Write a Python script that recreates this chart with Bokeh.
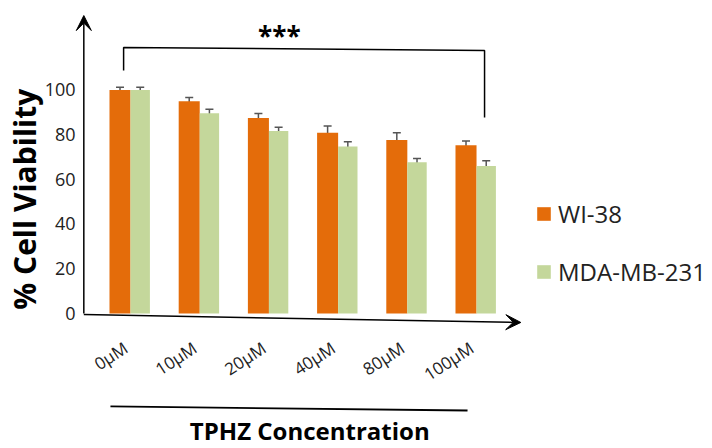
import math

from bokeh.core.properties import value
from bokeh.embed import file_html
from bokeh.models import (Arrow, ColumnDataSource, Legend, LegendItem, Range1d,
                          TeeHead, VeeHead, Whisker)
from bokeh.plotting import figure
from bokeh.resources import INLINE
from bokeh.transform import dodge

# ---- data -------------------------------------------------------------
concentrations = ["0\u03bcM", "10\u03bcM", "20\u03bcM", "40\u03bcM", "80\u03bcM", "100\u03bcM"]
wi38 = [99.8, 94.8, 87.3, 80.7, 77.4, 75.1]
wi38_err = [1.2, 1.6, 2.0, 3.0, 3.3, 1.9]
mda = [99.8, 89.4, 81.5, 74.6, 67.5, 65.8]
mda_err = [1.2, 1.8, 1.7, 2.1, 1.7, 2.4]
y_ticks = [0, 20, 40, 60, 80, 100]
series_names = ["WI-38", "MDA-MB-231"]

ORANGE = "#E46C0A"
GREEN = "#C4D79B"
ERR = "#555555"
FONT = "Open Sans"

pos = list(range(len(concentrations)))
src = ColumnDataSource(dict(
    x=pos,
    wi=wi38, wi_lo=[v - e for v, e in zip(wi38, wi38_err)], wi_hi=[v + e for v, e in zip(wi38, wi38_err)],
    mda=mda, mda_lo=[v - e for v, e in zip(mda, mda_err)], mda_hi=[v + e for v, e in zip(mda, mda_err)],
))

W, H = 712, 448
p = figure(width=W, height=H, x_range=Range1d(-1.879, 8.41), y_range=Range1d(-60.27, 139.73),
           x_axis_location=None, y_axis_location=None, toolbar_location=None,
           output_backend="svg", min_border=0, outline_line_color=None)
p.xgrid.visible = False
p.ygrid.visible = False
p.background_fill_color = "white"
p.border_fill_color = "white"

# ---- bars -------------------------------------------------------------
r_wi = p.vbar(x=dodge("x", -0.152, range=p.x_range), top="wi", bottom=0, width=0.304,
              source=src, fill_color=ORANGE, line_color=None)
r_mda = p.vbar(x=dodge("x", 0.14, range=p.x_range), top="mda", bottom=0, width=0.28,
               source=src, fill_color=GREEN, line_color=None)

for xcol, lo, hi in [(dodge("x", -0.152, range=p.x_range), "wi_lo", "wi_hi"),
                     (dodge("x", 0.14, range=p.x_range), "mda_lo", "mda_hi")]:
    w = Whisker(base=xcol, lower=lo, upper=hi, source=src, line_color=ERR, line_width=1.5,
                upper_head=TeeHead(size=8, line_color=ERR, line_width=1.5),
                lower_head=TeeHead(size=8, line_color=ERR, line_width=1.5))
    p.add_layout(w)

# ---- axes drawn as arrows ------------------------------------------------
ax_x0 = -0.675
p.add_layout(Arrow(x_start=ax_x0, y_start=0, x_end=ax_x0, y_end=133,
                   line_color="black", line_width=1.5,
                   end=VeeHead(size=15, fill_color="black", line_color="black")))
p.add_layout(Arrow(x_start=ax_x0, y_start=-0.5, x_end=5.64, y_end=-4.0,
                   line_color="black", line_width=1.5,
                   end=VeeHead(size=15, fill_color="black", line_color="black")))

# y tick labels
p.text(x=[-0.795] * len(y_ticks), y=y_ticks, text=[str(t) for t in y_ticks],
       text_align="right", text_baseline="middle", text_font=value(FONT),
       text_font_size="18px", text_color="#222222")

# x tick labels, rotated
p.text(x=[i - 0.07 for i in pos], y=[-14.5] * len(pos), text=concentrations,
       angle=math.radians(33), text_align="right", text_baseline="middle",
       text_font=value(FONT), text_font_size="17px", text_color="#222222")

# y axis title
p.text(x=[-1.53], y=[51], text=["% Cell Viability"], angle=math.pi / 2,
       text_align="center", text_baseline="middle", text_font=value(FONT),
       text_font_style="bold", text_font_size="30px", text_color="black")

# x axis title with rule above it
p.line(x=[-0.29, 4.87], y=[-41.5, -43.3], line_color="black", line_width=1.8)
p.text(x=[2.59], y=[-52.2], text=["TPHZ Concentration"], text_align="center",
       text_baseline="middle", text_font=value(FONT), text_font_style="bold",
       text_font_size="24px", text_color="black")

# significance bracket between 0 and 100 uM
p.line(x=[-0.1, -0.1, 5.116, 5.116], y=[108.5, 118.8, 117.4, 87.5],
       line_color="black", line_width=1.5)
p.text(x=[2.15], y=[124], text=["***"], text_align="center", text_baseline="middle",
       text_font=value(FONT), text_font_style="bold", text_font_size="26px",
       text_color="black")

# ---- legend -----------------------------------------------------------
legend = Legend(items=[LegendItem(label=series_names[0], renderers=[r_wi]),
                       LegendItem(label=series_names[1], renderers=[r_mda])],
                location=(535, 160), padding=0, margin=0, spacing=25,
                glyph_width=17, glyph_height=17, label_standoff=6,
                label_text_font=FONT, label_text_font_size="24px",
                label_text_color="#222222", border_line_color=None,
                background_fill_alpha=0)
p.add_layout(legend)

open("out.html", "w").write(file_html(p, INLINE))
